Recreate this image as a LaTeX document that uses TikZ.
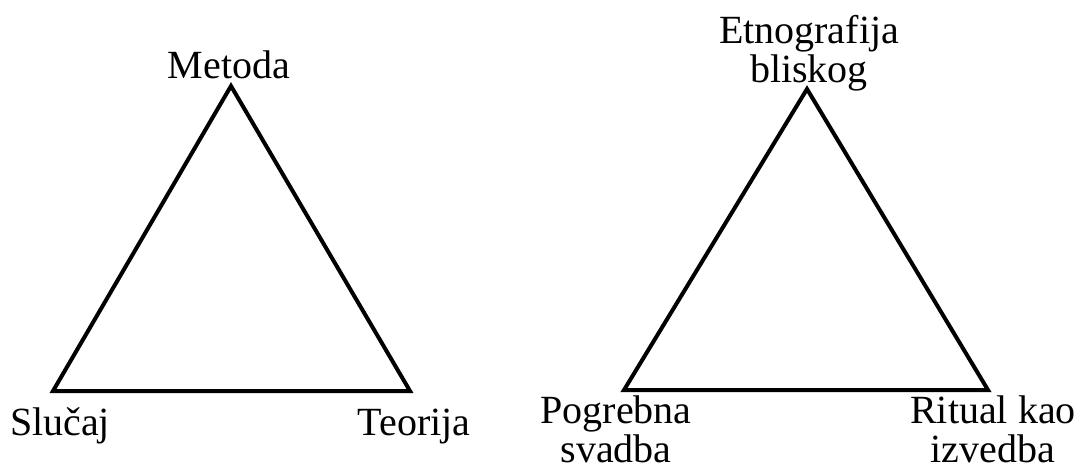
\documentclass[tikz,border=0pt]{standalone}
\usepackage{fontspec}
\setmainfont{Liberation Serif}
\begin{document}
\begin{tikzpicture}[x=0.5pt, y=-0.5pt, line join=miter, font=\fontsize{20}{19.5}\selectfont]
	\tikzset{lbl/.style={anchor=base, inner sep=0pt, align=center}, side/.style={line width=2pt}}
	\useasboundingbox (0,0) rectangle (1081,463);
	% left triangle
	\coordinate (met) at (231,86);
	\coordinate (slu) at (53,391);
	\coordinate (teo) at (410,391);
	\draw[side] (met)--(teo)--(slu)--cycle;
	\node[lbl] (metL) at (229,78) {Metoda};
	\node[lbl] (sluL) at (60,435) {Slučaj};
	\node[lbl] (teoL) at (414,435) {Teorija};
	% right triangle
	\coordinate (etn) at (807,89);
	\coordinate (pog) at (624,390);
	\coordinate (rit) at (988,390);
	\draw[side] (etn)--(rit)--(pog)--cycle;
	\node[lbl] (etnL) at (809,82) {Etnografija\\bliskog};
	\node[lbl] (pogL) at (616,462) {Pogrebna\\svadba};
	\node[lbl] (ritL) at (993,462) {Ritual kao\\izvedba};
\end{tikzpicture}
\end{document}
